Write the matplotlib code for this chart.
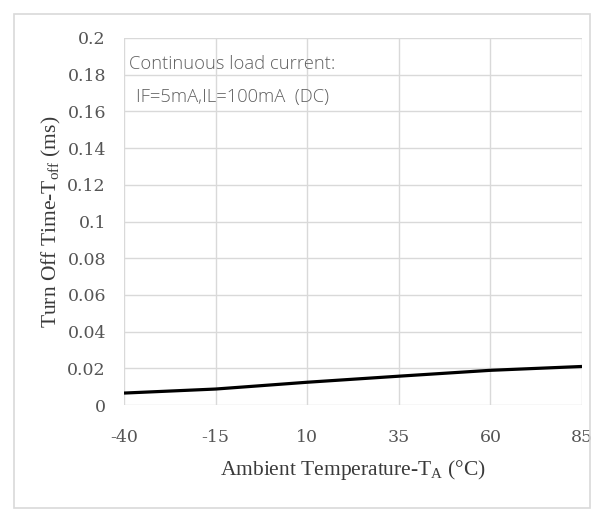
import numpy as np
import matplotlib.pyplot as plt
from matplotlib.patches import Rectangle

plt.rcParams["axes.unicode_minus"] = False

# turn-off time vs ambient temperature
temp = [-40, -15, 10, 35, 60, 85]
t_off = [0.0065, 0.0087, 0.0124, 0.0157, 0.0189, 0.0210]
x_ticks = [-40, -15, 10, 35, 60, 85]
y_ticks = [0, 0.02, 0.04, 0.06, 0.08, 0.1, 0.12, 0.14, 0.16, 0.18, 0.2]
y_labels = ["0", "0.02", "0.04", "0.06", "0.08", "0.1", "0.12", "0.14", "0.16", "0.18", "0.2"]

W, H = 599, 514
fig = plt.figure(figsize=(W / 100, H / 100), dpi=100)
fig.patch.set_facecolor("white")

# outer chart frame
fig.patches.append(Rectangle((14 / W, 1 - 508 / H), 576 / W, 494 / H,
                             transform=fig.transFigure, fill=False,
                             edgecolor="#d9d9d9", linewidth=1.2))

ax = fig.add_axes([124 / W, 1 - 405 / H, 458 / W, 367 / H])
ax.plot(temp, t_off, color="black", linewidth=2.3, solid_capstyle="butt")

ax.set_xlim(-40, 85)
ax.set_ylim(0, 0.2)
ax.set_xticks(x_ticks)
ax.set_yticks(y_ticks)
ax.set_yticklabels(y_labels)
ax.grid(True, color="#d9d9d9", linewidth=1.0)
ax.set_axisbelow(True)
for s in ax.spines.values():
    s.set_visible(False)
ax.tick_params(length=0, labelsize=12.5, labelcolor="#555555")
for lab in ax.get_xticklabels() + ax.get_yticklabels():
    lab.set_family(["DejaVu Serif"])
ax.tick_params(axis="y", pad=13)
ax.tick_params(axis="x", pad=17)

serif = ["Liberation Serif", "DejaVu Serif"]
ax.set_xlabel("Ambient Temperature-T$_\\mathregular{A}$ (°C)", family=serif,
              fontsize=15.5, color="#3a3a3a", labelpad=9)
ax.set_ylabel("Turn Off Time-T$_\\mathregular{off}$ (ms)", family=serif,
              fontsize=15.5, color="#3a3a3a", labelpad=3)

ax.text(-38.6, 0.186, "Continuous load current:", family="Open Sans",
        fontsize=13.2, color="#606060", va="center", fontweight="light")
ax.text(-36.8, 0.168, "IF=5mA,IL=100mA  (DC)", family="Open Sans",
        fontsize=13.2, color="#606060", va="center", fontweight="light")

plt.savefig("out.png", dpi=100)
